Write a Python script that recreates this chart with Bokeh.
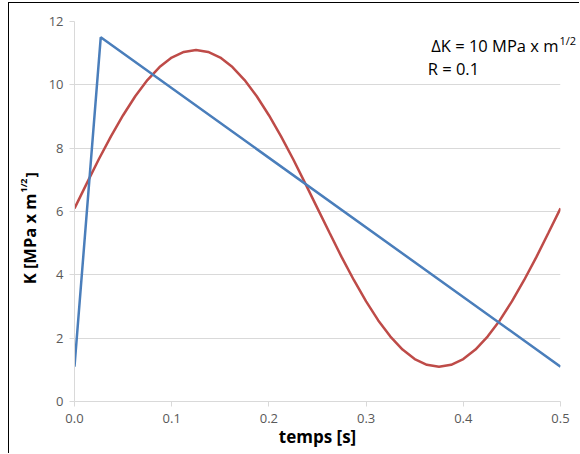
from bokeh.plotting import figure
from bokeh.models import Label, FixedTicker, NumeralTickFormatter, Range1d
from bokeh.embed import file_html
from bokeh.resources import INLINE

# --- data ---
t_red = [0.0, 0.0125, 0.025, 0.0375, 0.05, 0.0625, 0.075, 0.0875, 0.1, 0.1125,
         0.125, 0.1375, 0.15, 0.1625, 0.175, 0.1875, 0.2, 0.2125, 0.225, 0.2375,
         0.25, 0.2625, 0.275, 0.2875, 0.3, 0.3125, 0.325, 0.3375, 0.35, 0.3625,
         0.375, 0.3875, 0.4, 0.4125, 0.425, 0.4375, 0.45, 0.4625, 0.475, 0.4875, 0.5]
k_red = [6.10, 6.88, 7.65, 8.37, 9.04, 9.64, 10.15, 10.56, 10.86, 11.04,
         11.10, 11.04, 10.86, 10.56, 10.15, 9.64, 9.04, 8.37, 7.65, 6.88,
         6.10, 5.32, 4.55, 3.83, 3.16, 2.56, 2.05, 1.64, 1.34, 1.16,
         1.10, 1.16, 1.34, 1.64, 2.05, 2.56, 3.16, 3.83, 4.55, 5.32, 6.10]
t_blue = [0.0, 0.027, 0.5]
k_blue = [1.1, 11.5, 1.1]
x_ticks = [0.0, 0.1, 0.2, 0.3, 0.4, 0.5]
y_ticks = [0, 2, 4, 6, 8, 10, 12]

FONT = "Open Sans"
TICK_COLOR = "#595959"
GRID_COLOR = "#D9D9D9"

p = figure(width=571, height=451, output_backend="svg", toolbar_location=None,
           x_range=Range1d(0, 0.5), y_range=Range1d(0, 12),
           min_border_left=64, min_border_right=20, min_border_top=18,
           min_border_bottom=53)
p.styles = {"margin-left": "8px", "margin-top": "2px",
            "border-left": "1px solid #000000", "border-top": "1px solid #000000"}
p.outline_line_color = None
p.background_fill_color = "white"
p.border_fill_color = "white"

p.line(t_red, k_red, line_color="#BE4B48", line_width=2.5)
p.line(t_blue, k_blue, line_color="#4A7EBB", line_width=2.5)

p.xgrid.grid_line_color = None
p.ygrid.grid_line_color = GRID_COLOR
p.ygrid.ticker = FixedTicker(ticks=y_ticks)

for ax in (p.xaxis[0], p.yaxis[0]):
    ax.axis_line_color = GRID_COLOR
    ax.major_tick_line_color = GRID_COLOR
    ax.minor_tick_line_color = None
    ax.major_tick_in = 0
    ax.major_tick_out = 5
    ax.major_label_text_font = FONT
    ax.major_label_text_font_size = "13px"
    ax.major_label_text_color = TICK_COLOR

p.xaxis.ticker = FixedTicker(ticks=x_ticks)
p.xaxis.formatter = NumeralTickFormatter(format="0.0")
p.xaxis.major_label_standoff = 7
p.xaxis.axis_label = "temps [s]"
p.xaxis.axis_label_text_font = FONT
p.xaxis.axis_label_text_font_style = "bold"
p.xaxis.axis_label_text_font_size = "17px"
p.xaxis.axis_label_text_color = "#000000"
p.xaxis.axis_label_standoff = -1
p.yaxis.ticker = FixedTicker(ticks=y_ticks)
p.yaxis.formatter = NumeralTickFormatter(format="0")
p.yaxis.major_label_standoff = 6

# y axis title (with superscript); side panels keep the text unclipped
p.add_layout(Label(x=-0.0462, y=6.57, text="K [MPa x m", text_font=FONT,
                   text_font_style="bold", text_font_size="16.5px", angle=90,
                   angle_units="deg", text_align="right", text_baseline="middle",
                   text_color="#000000"), "left")
p.add_layout(Label(x=-0.0520, y=6.60, text="1/2", text_font=FONT,
                   text_font_style="bold", text_font_size="9px", angle=90,
                   angle_units="deg", text_align="left", text_baseline="middle",
                   text_color="#000000"), "left")
p.add_layout(Label(x=-0.0462, y=7.08, text="]", text_font=FONT,
                   text_font_style="bold", text_font_size="15px", angle=90,
                   angle_units="deg", text_align="left", text_baseline="middle",
                   text_color="#000000"), "right")

# annotation
p.add_layout(Label(x=0.4979, y=11.24, text="\u0394K = 10 MPa x m", text_font=FONT,
                   text_font_size="16.5px", text_align="right",
                   text_baseline="alphabetic", text_color="#000000"))
p.add_layout(Label(x=0.4990, y=11.40, text="1/2", text_font=FONT,
                   text_font_size="11px", text_align="left",
                   text_baseline="alphabetic", text_color="#000000"), "above")
p.add_layout(Label(x=0.3634, y=10.515, text="R = 0.1", text_font=FONT,
                   text_font_size="16.5px", text_align="left",
                   text_baseline="alphabetic", text_color="#000000"))

open("out.html", "w").write(file_html(p, INLINE))
